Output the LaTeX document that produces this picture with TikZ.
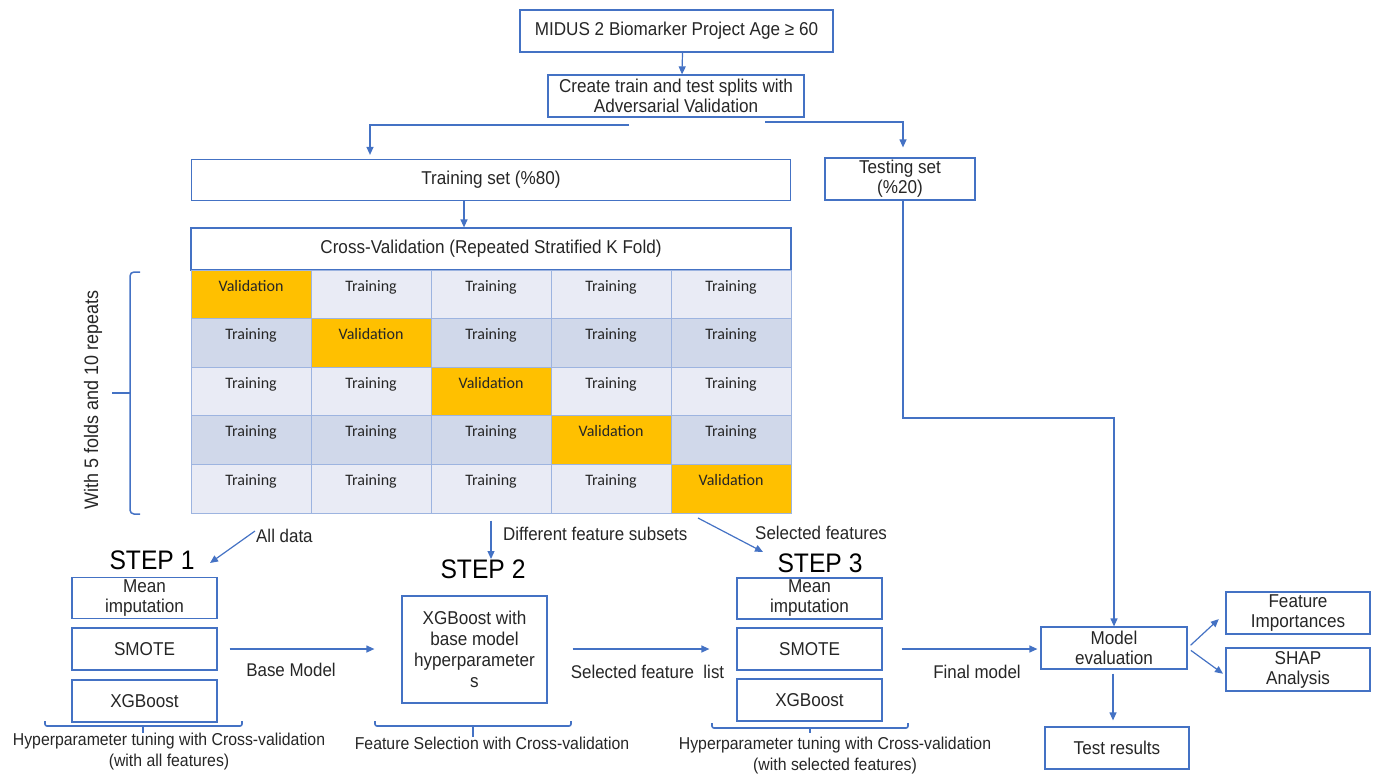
\documentclass[tikz,border=0pt]{standalone}
\usepackage{fontspec}
\setmainfont{Liberation Sans}[FakeStretch=0.92]
\newfontfamily\gridfont{Carlito}
\usetikzlibrary{arrows.meta,positioning}
\definecolor{flowblue}{HTML}{4472C4}
\definecolor{gridblue}{HTML}{9DB4E0}
\definecolor{rowlight}{HTML}{E9EBF5}
\definecolor{rowdark}{HTML}{D0D8EA}
\definecolor{valorange}{HTML}{FFC000}
\definecolor{inkgray}{HTML}{262626}
\tikzset{
  box/.style={rectangle, draw=flowblue, line width=1.2pt, fill=white, align=center, inner sep=0pt, text=inkgray, font=\fontsize{18.6}{20}\selectfont},
  lbl/.style={align=center, inner sep=0pt, text=inkgray, font=\fontsize{18.4}{20}\selectfont},
  steplbl/.style={inner sep=0pt, text=black, font=\fontsize{26.8}{30}\selectfont},
  cvlbl/.style={align=center, inner sep=0pt, text=inkgray, font=\fontsize{17.2}{21}\selectfont},
  cell/.style={rectangle, draw=gridblue, line width=1pt, minimum width=120pt, minimum height=48.6pt, inner xsep=0pt, inner ysep=13pt, text height=8pt, text depth=14.6pt, text=inkgray, font=\gridfont\fontsize{16}{18}\selectfont},
  flow/.style={draw=flowblue, line width=1.2pt, -{Triangle[length=8pt,width=7pt]}},
  bar/.style={draw=flowblue, line width=1.6pt},
}
\begin{document}
\begin{tikzpicture}[x=1pt, y=-1pt]
  \useasboundingbox (0,0) rectangle (1380,774);
  % data preparation
  \node[box, minimum width=313pt, minimum height=42pt] (midus) at (676.5,31) {MIDUS 2 Biomarker Project Age ≥ 60};
  \node[box, minimum width=256pt, minimum height=42pt] (split) at (676,96) {Create train and test splits with\\Adversarial Validation};
  \node[box, minimum width=599pt, minimum height=41pt] (trainset) at (491,180) {Training set (\%80)};
  \node[box, minimum width=150pt, minimum height=42pt] (testset) at (900,179) {Testing set\\(\%20)};
  \node[box, minimum width=600pt, minimum height=42pt] (cv) at (491,249) {Cross-Validation (Repeated Stratified K Fold)};
  \coordinate (splitL) at (629,125);
  \coordinate (splitR) at (765,122);
  \draw[flow] ([xshift=6pt]midus.south) -- ([xshift=6pt]split.north);
  \draw[flow, shorten >=4pt] (splitL) -| ([xshift=-121pt]trainset.north);
  \draw[flow, shorten >=10pt] (splitR) -| ([xshift=3pt]testset.north);
  \draw[flow] ([xshift=-27pt]trainset.south) -- ([xshift=-27pt]cv.north);
  % folds grid
  \foreach \r in {1,...,5}{
    \foreach \c in {1,...,5}{
      \ifnum\r=\c
        \node[cell, fill=valorange] (c\r\c) at ({191+120*(\c-0.5)},{270+48.6*(\r-0.5)}) {Validation};
      \else
        \ifodd\r\relax \def\cellfill{rowlight}\else \def\cellfill{rowdark}\fi
        \node[cell, fill=\cellfill] (c\r\c) at ({191+120*(\c-0.5)},{270+48.6*(\r-0.5)}) {Training};
      \fi
    }
  }
  \draw[bar, line width=1.5pt, rounded corners=4pt] (140,272) -- (130,272) -- (130,514) -- (140,514);
  \draw[bar, line width=1.5pt] (112,393) -- (130,393);
  \node[lbl, rotate=90, font=\fontsize{19.5}{22}\selectfont] (foldlbl) at (93,400) {With 5 folds and 10 repeats};
  % step 1
  \node[steplbl] (s1) at (152,560) {STEP 1};
  \node[box, minimum width=145pt, minimum height=41pt] (mean1) at (144.5,598) {Mean\\imputation};
  \node[box, minimum width=145pt, minimum height=42pt] (smote1) at (144.5,649) {SMOTE};
  \node[box, minimum width=145pt, minimum height=42pt] (xgb1) at (144.5,701) {XGBoost};
  \draw[bar, rounded corners=2pt] (45,721) -- (45,726) -- (242,726) -- (242,721);
  \draw[bar] (143,726) -- (143,733);
  \node[cvlbl] (hp1) at (169,752) {Hyperparameter tuning with Cross-validation\\(with all features)};
  \coordinate (alltail) at (255,531);
  \coordinate (allhead) at (210,563);
  \draw[flow] (alltail) -- (allhead);
  \node[lbl, anchor=west] (alldata) at (256,536) {All data};
  % step 2
  \node[steplbl] (s2) at (483,569) {STEP 2};
  \node[box, minimum width=145pt, minimum height=107pt, font=\fontsize{18.6}{21}\selectfont] (fsel) at (474.5,649.5) {XGBoost with\\base model\\hyperparameter\\s};
  \draw[bar, rounded corners=2pt] (375,721) -- (375,726) -- (571,726) -- (571,721);
  \draw[bar] (473,726) -- (473,737);
  \node[cvlbl] (fs2) at (492,743) {Feature Selection with Cross-validation};
  \draw[flow, shorten <=12pt, shorten >=27pt] (smote1.east) -- (smote1.east -| fsel.west);
  \node[lbl] (basem) at (291,670) {Base Model};
  \draw[flow, shorten <=7pt] (c53.south) -- (491,559);
  \node[lbl, anchor=west] (diffsub) at (503,534) {Different feature subsets};
  % step 3
  \node[steplbl] (s3) at (820,563) {STEP 3};
  \node[box, minimum width=145pt, minimum height=41pt] (mean3) at (809.5,598.5) {Mean\\imputation};
  \node[box, minimum width=145pt, minimum height=42pt] (smote3) at (809.5,649) {SMOTE};
  \node[box, minimum width=145pt, minimum height=42pt] (xgb3) at (809.5,700) {XGBoost};
  \draw[bar, rounded corners=2pt] (712,723) -- (712,728) -- (908,728) -- (908,723);
  \draw[bar] (810,728) -- (810,733);
  \node[cvlbl] (hp3) at (835,756) {Hyperparameter tuning with Cross-validation\\(with selected features)};
  \coordinate (seltail) at (698,518);
  \coordinate (selhead) at (763,552);
  \draw[flow] (seltail) -- (selhead);
  \node[lbl, anchor=west] (selfeat) at (755,533) {Selected features};
  \draw[flow, shorten <=25pt, shorten >=27pt] (fsel.east |- smote3.west) -- (smote3.west);
  \node[lbl] (sellist) at (647.5,672) {Selected feature\ \ list};
  % evaluation
  \node[box, minimum width=146pt, minimum height=42pt] (eval) at (1114,648) {Model\\evaluation};
  \node[box, minimum width=144pt, minimum height=42pt] (featimp) at (1298,613) {Feature\\Importances};
  \node[box, minimum width=144pt, minimum height=43pt] (shap) at (1298,669.5) {SHAP\\Analysis};
  \node[box, minimum width=144pt, minimum height=42pt] (testres) at (1117,748) {Test results};
  \draw[flow, shorten <=19pt, shorten >=3pt] (smote3.east) -- (smote3.east -| eval.west);
  \node[lbl] (finalm) at (977,672) {Final model};
  \coordinate (tbend) at (903,418);
  \draw[flow] ([xshift=3pt]testset.south) -- (tbend) -| (eval.north);
  \draw[flow, shorten <=4pt, shorten >=9pt] (eval.east) -- (featimp.west);
  \draw[flow, shorten <=4pt, shorten >=3pt] (eval.east) -- ([yshift=-6pt]shap.west);
  \draw[flow, shorten <=4pt, shorten >=6pt] ([xshift=-1pt]eval.south) -- ([xshift=-4pt]testres.north);
\end{tikzpicture}
\end{document}
